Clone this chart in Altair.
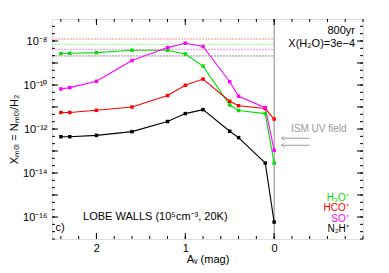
import altair as alt
import pandas as pd
import numpy as np

# ---- data ----
av = [2.4, 2.3, 2.0, 1.6, 1.2, 1.0, 0.8, 0.5, 0.4, 0.1, 0.0]
log_h3o = [-8.57, -8.56, -8.53, -8.42, -8.42, -8.59, -9.14, -10.91, -11.16, -11.30, -13.55]
log_hco = [-11.25, -11.25, -11.15, -11.00, -10.48, -10.01, -9.73, -10.74, -10.94, -11.07, -11.55]
log_so = [-10.18, -10.12, -9.83, -8.89, -8.30, -8.10, -8.25, -9.85, -10.51, -11.03, -12.97]
log_n2h = [-12.35, -12.35, -12.29, -12.12, -11.66, -11.30, -11.12, -12.10, -12.39, -13.55, -16.23]

species = ["H₃O⁺", "HCO⁺", "SO⁺", "N₂H⁺"]
colors = ["#00e000", "#ff0000", "#ff00ff", "#000000"]
level_log = [-8.15, -7.91, -8.39, -8.68]
level_colors = ["#88ff88", "#ff9090", "#ff90ff", "#909090"]

x_ticks_major = [2, 1, 0]
y_label_vals = [1e-8, 1e-10, 1e-12, 1e-14, 1e-16]

W, H = 311, 220
FONT = "Liberation Sans"

rows = []
for sp, series in zip(species, [log_h3o, log_hco, log_so, log_n2h]):
    for a, v in zip(av, series):
        rows.append({"species": sp, "av": a, "x": 10 ** v})
df = pd.DataFrame(rows)

xs = alt.Scale(domain=[2.5, -1.0], nice=False, zero=False)
ys = alt.Scale(type="log", domain=[1e-17, 1e-7], nice=False)

X = lambda f="av", **k: alt.X(f, type="quantitative", scale=xs, **k)
Y = lambda f="x", **k: alt.Y(f, type="quantitative", scale=ys, **k)

label_expr = ("datum.value < 5e-16 ? '10⁻¹⁶' : datum.value < 5e-14 ? '10⁻¹⁴' : "
              "datum.value < 5e-12 ? '10⁻¹²' : datum.value < 5e-10 ? '10⁻¹⁰' : '10⁻⁸'")

# base axes layer (invisible points)
base = alt.Chart(df).mark_point(opacity=0).encode(
    x=X(axis=alt.Axis(values=x_ticks_major, format="d", ticks=False, domain=False, grid=False,
                      title="Aᵥ (mag)", labelFont=FONT, labelFontSize=11, titleFont=FONT,
                      titleFontSize=11, titleFontWeight="normal", labelPadding=3, titlePadding=0,
                      labelColor="black", titleColor="black")),
    y=Y(axis=alt.Axis(values=y_label_vals, labelExpr=label_expr, ticks=False, domain=False,
                      grid=False, title="Xₘₒₗ = Nₘₒₗ/H₂", labelFont=FONT, labelFontSize=11,
                      titleFont=FONT, titleFontSize=11, titleFontWeight="normal",
                      labelPadding=5, titlePadding=3, labelColor="black", titleColor="black")),
)

# dotted abundance levels
lv = pd.DataFrame({"y": [10 ** v for v in level_log], "c": level_colors,
                   "x1": [2.5] * 4, "x2": [0.0] * 4})
levels = alt.Chart(lv).mark_rule(strokeDash=[2, 1], strokeWidth=1).encode(
    x=X("x1"), x2="x2", y=Y("y"), color=alt.Color("c:N", scale=None))

# vertical line at Av = 0
vline = alt.Chart(pd.DataFrame({"av": [0.0]})).mark_rule(color="#888888", strokeWidth=1).encode(
    x=X("av"), y=alt.value(0), y2=alt.value(H))

color_scale = alt.Scale(domain=species, range=colors)
lines = alt.Chart(df).mark_line(strokeWidth=1.1).encode(
    x=X(), y=Y(), color=alt.Color("species:N", scale=color_scale, legend=None),
    detail="species:N")
pts = alt.Chart(df).mark_point(filled=True, size=12, shape="square", opacity=1).encode(
    x=X(), y=Y(), color=alt.Color("species:N", scale=color_scale, legend=None))

# ticks (inward)
minor_x = [round(v, 1) for v in np.arange(2.4, -1.01, -0.2)]
minor_y = [10 ** v for v in np.arange(-17, -7.01, 1 / 3)]
major_y = [10.0 ** e for e in range(-16, -7)]
tx = pd.DataFrame({"av": minor_x})
tmx = pd.DataFrame({"av": [float(v) for v in x_ticks_major]})
ty = pd.DataFrame({"x": minor_y})
tmy = pd.DataFrame({"x": major_y})
tick_layers = []
for d, L in [(tx, 3), (tmx, 6)]:
    tick_layers.append(alt.Chart(d).mark_rule(color="black").encode(
        x=X("av"), y=alt.value(H), y2=alt.value(H - L)))
    tick_layers.append(alt.Chart(d).mark_rule(color="black").encode(
        x=X("av"), y=alt.value(0), y2=alt.value(L)))
for d, L in [(ty, 3), (tmy, 6)]:
    tick_layers.append(alt.Chart(d).mark_rule(color="black").encode(
        y=Y("x"), x=alt.value(0), x2=alt.value(L)))
    tick_layers.append(alt.Chart(d).mark_rule(color="black").encode(
        y=Y("x"), x=alt.value(W), x2=alt.value(W - L)))


def txt(label, a, logv, color="black", align="left", size=11):
    d = pd.DataFrame({"t": [label], "av": [a], "x": [10 ** logv]})
    return alt.Chart(d).mark_text(align=align, baseline="middle", font=FONT, fontSize=size,
                                  color=color).encode(x=X(), y=Y(), text="t:N")


texts = [
    txt("800yr", -0.91, -7.56, align="right"),
    txt("X(H₂O)=3e−4", -0.91, -8.12, align="right"),
    txt("ISM UV field", -0.19, -12.01, color="#999999", size=10),
    txt("LOBE WALLS (10⁵cm⁻³, 20K)", 2.15, -16.01),
    txt("c)", 2.46, -16.51),
]
for sp, c, lg in zip(species, colors, [-15.12, -15.6, -16.08, -16.56]):
    texts.append(txt(sp, -0.84, lg, color=c, align="right", size=10))

# arrows for ISM UV field
arr = pd.DataFrame({"x1": [-0.11, -0.11], "x2": [-0.40, -0.40], "y": [10 ** -12.42, 10 ** -12.74]})
arrow_lines = alt.Chart(arr).mark_rule(color="#999999", strokeWidth=1).encode(
    x=X("x1"), x2="x2", y=Y("y"))
arrow_heads = alt.Chart(arr).mark_point(
    shape="M-1,0L0.2,-0.6M-1,0L0.2,0.6", size=30, color="#999999", strokeWidth=1, opacity=1
).encode(x=X("x1"), y=Y("y"))

chart = alt.layer(base, levels, vline, lines, pts, arrow_lines, arrow_heads,
                  *tick_layers, *texts).properties(
    width=W, height=H,
    autosize=alt.AutoSizeParams(type="none"),
    padding={"left": 44, "top": 11, "right": 18, "bottom": 34},
).configure_view(stroke="black", strokeWidth=1).configure(background="white")

chart.save("out.html", embed_options={"renderer": "svg", "actions": False})
